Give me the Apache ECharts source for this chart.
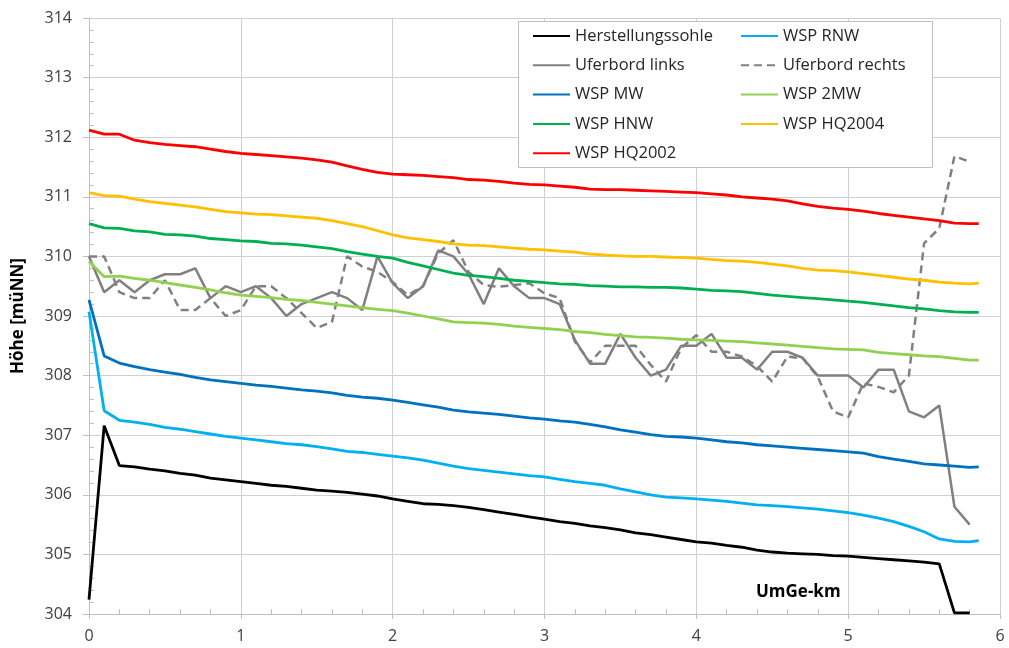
<!DOCTYPE html>
<html>
<head>
<meta charset="utf-8">
<script src="https://cdn.jsdelivr.net/npm/echarts@6/dist/echarts.min.js"></script>
<style>
html,body{margin:0;padding:0;background:#fff;}
#chart{width:1009px;height:648px;}
</style>
</head>
<body>
<div id="chart"></div>
<script>
// kilometre stations (Uferbord / Sohle)
var km = [0,0.1,0.2,0.3,0.4,0.5,0.6,0.7,0.8,0.9,1,1.1,1.2,1.3,1.4,1.5,1.6,1.7,1.8,1.9,2,2.1,2.2,2.3,2.4,2.5,2.6,2.7,2.8,2.9,3,3.1,3.2,3.3,3.4,3.5,3.6,3.7,3.8,3.9,4,4.1,4.2,4.3,4.4,4.5,4.6,4.7,4.8,4.9,5,5.1,5.2,5.3,5.4,5.5,5.6,5.7,5.8];
// stations of the water level lines
var kmWsp = [0,0.1,0.2,0.3,0.4,0.5,0.6,0.7,0.8,0.9,1,1.1,1.2,1.3,1.4,1.5,1.6,1.7,1.8,1.9,2,2.1,2.2,2.3,2.4,2.5,2.6,2.7,2.8,2.9,3,3.1,3.2,3.3,3.4,3.5,3.6,3.7,3.8,3.9,4,4.1,4.2,4.3,4.4,4.5,4.6,4.7,4.8,4.9,5,5.1,5.2,5.3,5.4,5.5,5.6,5.7,5.8,5.86];

var herstellungssohle = [304.24,307.16,306.49,306.47,306.43,306.40,306.36,306.33,306.28,306.25,306.22,306.19,306.16,306.14,306.11,306.08,306.06,306.04,306.01,305.98,305.93,305.89,305.85,305.84,305.82,305.79,305.75,305.71,305.67,305.63,305.59,305.55,305.52,305.48,305.45,305.41,305.36,305.33,305.29,305.25,305.21,305.19,305.15,305.12,305.07,305.04,305.02,305.01,305.00,304.98,304.97,304.95,304.93,304.91,304.89,304.87,304.84,304.02,304.02];
var uferLinks = [310.0,309.4,309.6,309.4,309.6,309.7,309.7,309.8,309.3,309.5,309.4,309.5,309.3,309.0,309.2,309.3,309.4,309.3,309.1,310.0,309.55,309.3,309.5,310.1,310.0,309.7,309.2,309.8,309.5,309.3,309.3,309.2,308.6,308.2,308.2,308.7,308.3,308.0,308.1,308.5,308.5,308.7,308.3,308.3,308.1,308.4,308.4,308.3,308.0,308.0,308.0,307.8,308.1,308.1,307.4,307.3,307.5,305.8,305.5];
var uferRechts = [310.0,310.0,309.4,309.3,309.3,309.6,309.1,309.1,309.3,309.0,309.1,309.5,309.5,309.3,309.05,308.8,308.9,310.0,309.83,309.74,309.57,309.35,309.5,310.05,310.27,309.74,309.52,309.49,309.52,309.55,309.38,309.3,308.57,308.22,308.5,308.5,308.5,308.18,307.9,308.46,308.68,308.4,308.4,308.32,308.16,307.9,308.32,308.29,307.98,307.4,307.3,307.87,307.81,307.72,308.0,310.22,310.47,311.68,311.59];
var wspRNW = [309.07,307.41,307.25,307.22,307.18,307.13,307.10,307.06,307.02,306.98,306.95,306.92,306.89,306.86,306.84,306.81,306.77,306.73,306.71,306.68,306.65,306.62,306.58,306.53,306.48,306.44,306.41,306.38,306.35,306.32,306.30,306.26,306.22,306.19,306.16,306.10,306.05,306.00,305.96,305.95,305.93,305.91,305.89,305.86,305.83,305.82,305.80,305.78,305.76,305.73,305.70,305.66,305.61,305.55,305.47,305.38,305.26,305.22,305.21,305.23];
var wspMW = [309.27,308.33,308.21,308.15,308.10,308.06,308.02,307.97,307.93,307.90,307.87,307.84,307.82,307.79,307.76,307.74,307.71,307.67,307.64,307.62,307.59,307.55,307.51,307.47,307.42,307.39,307.37,307.35,307.32,307.29,307.27,307.24,307.22,307.18,307.14,307.09,307.05,307.01,306.98,306.97,306.95,306.92,306.89,306.87,306.84,306.82,306.80,306.78,306.76,306.74,306.72,306.70,306.64,306.60,306.56,306.52,306.50,306.48,306.46,306.47];
var wsp2MW = [309.92,309.66,309.67,309.63,309.60,309.56,309.52,309.48,309.44,309.39,309.35,309.33,309.31,309.28,309.26,309.23,309.20,309.17,309.14,309.11,309.09,309.05,309.00,308.95,308.90,308.89,308.88,308.86,308.83,308.81,308.79,308.77,308.74,308.72,308.69,308.67,308.65,308.64,308.63,308.61,308.60,308.59,308.58,308.57,308.55,308.53,308.51,308.49,308.47,308.45,308.44,308.43,308.39,308.37,308.35,308.33,308.32,308.29,308.26,308.26];
var wspHNW = [310.55,310.48,310.47,310.43,310.41,310.37,310.36,310.34,310.30,310.28,310.26,310.25,310.22,310.21,310.19,310.16,310.13,310.08,310.04,310.00,309.97,309.90,309.84,309.78,309.72,309.68,309.66,309.63,309.60,309.58,309.56,309.54,309.53,309.51,309.50,309.49,309.49,309.48,309.48,309.47,309.45,309.43,309.42,309.41,309.38,309.35,309.33,309.31,309.29,309.27,309.25,309.23,309.20,309.17,309.14,309.12,309.09,309.07,309.06,309.06];
var wspHQ2004 = [311.07,311.02,311.01,310.96,310.92,310.89,310.86,310.83,310.79,310.75,310.73,310.71,310.70,310.68,310.66,310.64,310.60,310.55,310.50,310.43,310.36,310.31,310.28,310.25,310.21,310.19,310.18,310.16,310.14,310.12,310.11,310.09,310.07,310.04,310.02,310.01,310.00,310.00,309.99,309.98,309.97,309.95,309.93,309.92,309.90,309.87,309.84,309.80,309.77,309.76,309.74,309.71,309.68,309.65,309.62,309.60,309.57,309.55,309.54,309.55];
var wspHQ2002 = [312.12,312.05,312.05,311.95,311.91,311.88,311.86,311.84,311.80,311.76,311.73,311.71,311.69,311.67,311.65,311.62,311.58,311.52,311.46,311.41,311.38,311.37,311.36,311.34,311.32,311.29,311.28,311.26,311.23,311.21,311.20,311.18,311.16,311.13,311.12,311.12,311.11,311.10,311.09,311.08,311.07,311.05,311.03,311.00,310.98,310.96,310.93,310.88,310.84,310.81,310.79,310.76,310.72,310.69,310.66,310.63,310.60,310.56,310.55,310.55];

var xTicks = [0, 6, 1];   // min, max, interval
var yTicks = [304, 314, 1];
var yTitle = 'Höhe [müNN]';
var xTitle = 'UmGe-km';

function pairs(xs, ys) {
  var out = [];
  for (var i = 0; i < ys.length; i++) out.push([xs[i], ys[i]]);
  return out;
}

var FONT = 'Open Sans';
var lw = 2.8;
function mkSeries(name, xs, ys, color, dashed) {
  return {
    name: name, type: 'line', data: pairs(xs, ys),
    symbol: 'none', showSymbol: false, animation: false,
    xAxisIndex: 0, yAxisIndex: 0,
    lineStyle: { color: color, width: dashed !== undefined ? 2.5 : lw, type: dashed ? [8, 5] : 'solid' },
    itemStyle: { color: color }
  };
}

var chart = echarts.init(document.getElementById('chart'), null, { renderer: 'canvas' });
var axisCol = '#bfbfbf';
var gridCol = '#d0d0d0';
var labelStyle = { color: '#404040', fontFamily: FONT, fontSize: 16 };
var legendText = { color: '#262626', fontFamily: FONT, fontSize: 16.5, lineHeight: 18 };

var option = {
  animation: false,
  backgroundColor: '#ffffff',
  grid: { left: 89, right: 9, top: 18, bottom: 34, containLabel: false },
  xAxis: [{
    type: 'value', min: xTicks[0], max: xTicks[1], interval: xTicks[2],
    axisLine: { show: true, onZero: false, lineStyle: { color: axisCol, width: 1 } },
    axisTick: { show: true, length: 5, lineStyle: { color: axisCol } },
    axisLabel: Object.assign({ margin: 14 }, labelStyle),
    splitLine: { show: true, lineStyle: { color: gridCol, width: 1 } }
  }, {
    type: 'value', min: xTicks[0], max: xTicks[1], interval: xTicks[2], position: 'bottom',
    axisLine: { show: false }, axisTick: { show: false, inside: true }, axisLabel: { show: false },
    splitLine: { show: false },
    minorTick: { show: true, splitNumber: 5, length: 5, lineStyle: { color: axisCol } }
  }],
  yAxis: [{
    type: 'value', min: yTicks[0], max: yTicks[1], interval: yTicks[2],
    name: yTitle, nameLocation: 'middle', nameGap: 62, nameRotate: 90,
    nameTextStyle: { color: '#000', fontFamily: FONT, fontSize: 17, fontWeight: 'bold' },
    axisLine: { show: true, onZero: false, lineStyle: { color: axisCol, width: 1 } },
    axisTick: { show: true, length: 6, lineStyle: { color: axisCol } },
    axisLabel: Object.assign({ margin: 17 }, labelStyle),
    splitLine: { show: true, lineStyle: { color: gridCol, width: 1 } }
  }, {
    type: 'value', min: yTicks[0], max: yTicks[1], interval: yTicks[2], position: 'left',
    axisLine: { show: false }, axisTick: { show: false, inside: true }, axisLabel: { show: false },
    splitLine: { show: false },
    minorTick: { show: true, splitNumber: 5, length: 5, lineStyle: { color: axisCol } }
  }],
  legend: [{
    orient: 'vertical', left: 532, top: 27, padding: 0, z: 10,
    itemWidth: 37, itemHeight: 18, itemGap: 11.3,
    itemStyle: { opacity: 0 },
    textStyle: legendText,
    data: ['Herstellungssohle', 'Uferbord links', 'WSP MW', 'WSP HNW', 'WSP HQ2002']
  }, {
    orient: 'vertical', left: 740, top: 27, padding: 0, z: 10,
    itemWidth: 37, itemHeight: 18, itemGap: 11.3,
    itemStyle: { opacity: 0 },
    textStyle: legendText,
    data: ['WSP RNW', 'Uferbord rechts', 'WSP 2MW', 'WSP HQ2004']
  }],
  graphic: [
    { type: 'rect', z: 5, shape: { x: 518.5, y: 21.5, width: 414, height: 146 },
      style: { fill: '#ffffff', stroke: '#bfbfbf', lineWidth: 1 } },
    { type: 'text', z: 5, left: 756, top: 584,
      style: { text: xTitle, fill: '#000', font: 'bold 17px "Open Sans"' } }
  ],
  series: [
    mkSeries('Herstellungssohle', km, herstellungssohle, '#000000'),
    mkSeries('WSP RNW', kmWsp, wspRNW, '#00b0f0'),
    mkSeries('Uferbord links', km, uferLinks, '#808080', false),
    mkSeries('Uferbord rechts', km, uferRechts, '#808080', true),
    mkSeries('WSP MW', kmWsp, wspMW, '#0070c0'),
    mkSeries('WSP 2MW', kmWsp, wsp2MW, '#92d050'),
    mkSeries('WSP HNW', kmWsp, wspHNW, '#00b050'),
    mkSeries('WSP HQ2004', kmWsp, wspHQ2004, '#ffc000'),
    mkSeries('WSP HQ2002', kmWsp, wspHQ2002, '#ff0000')
  ]
};
chart.setOption(option);
</script>
</body>
</html>
